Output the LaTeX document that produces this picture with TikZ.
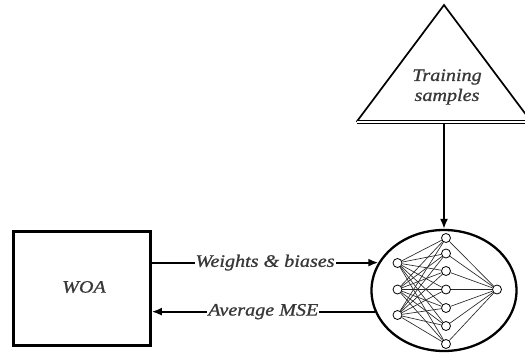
\documentclass[tikz,border=0pt]{standalone}
\usepackage{fontspec}
\usepackage{graphicx}
\setmainfont{Liberation Serif}
\newfontfamily\lblfont{Liberation Serif}[ItalicFeatures={FakeBold=0.9}]
\usetikzlibrary{shapes.geometric,arrows.meta}
\definecolor{labelgray}{HTML}{383838}
\newcommand{\wide}[1]{\scalebox{1.15}[1]{#1}}
\begin{document}
\begin{tikzpicture}[x=1pt,y=-1pt,
  lbl/.style={font=\lblfont\fontsize{17.5}{20}\selectfont\itshape, text=labelgray, inner sep=1pt},
  frame/.style={draw, line width=2.6pt},
  link/.style={line width=1.8pt},
  tip/.style={-{Latex[length=10pt,width=8pt]}},
  neuron/.style={circle, draw, fill=white, line width=0.8pt, minimum size=9pt, inner sep=0pt},
  synapse/.style={line width=0.65pt, draw=black!85}]
\useasboundingbox (0,0) rectangle (525,356);

% optimiser block
\node[frame, minimum width=137pt, minimum height=114pt, inner sep=0pt] (woa) at (82,288.5) {};
\node[lbl] (woatext) at (84,287) {\wide{WOA}};

% network enclosure
\node[ellipse, draw, line width=2.3pt, minimum width=145pt, minimum height=121pt, inner sep=0pt] (nn) at (444,290.5) {};

% training data triangle
\coordinate (apex) at (444,5);
\coordinate (bl) at (356.5,122);
\coordinate (br) at (531.5,122);
\coordinate (tb) at (444,124);
\draw[line width=1.7pt, line join=miter] (bl) -- (apex) -- (br);
\draw[line width=1pt, double distance=2pt] (bl) -- (br);
\node[lbl, align=center] (train) at (447,87) {\wide{Training}\\\wide{samples}};

% neurons
\foreach \i/\y in {1/263,2/289.5,3/315}
  \node[neuron] (in\i) at (397.5,\y) {};
\foreach \j/\y in {1/238,2/253.5,3/271,4/289.5,5/308,6/326,7/344}
  \node[neuron] (h\j) at (446,\y) {};
\node[neuron] (out) at (497,289.5) {};

\foreach \i in {1,2,3}
  \foreach \j in {1,...,7}
    \draw[synapse] (in\i) -- (h\j);
\foreach \j in {1,...,7}
  \draw[synapse] (h\j) -- (out);

% data flow
\draw[link,tip] (tb) -- (nn.north);
\draw[link,tip] (woa.east |- nn.157) -- node[lbl, fill=white] (wlbl) {\wide{Weights \& biases}} (nn.157);
\draw[link,tip] (nn.197) -- node[lbl, fill=white] (mlbl) {\wide{Average MSE}} (woa.east |- nn.197);
\end{tikzpicture}
\end{document}
